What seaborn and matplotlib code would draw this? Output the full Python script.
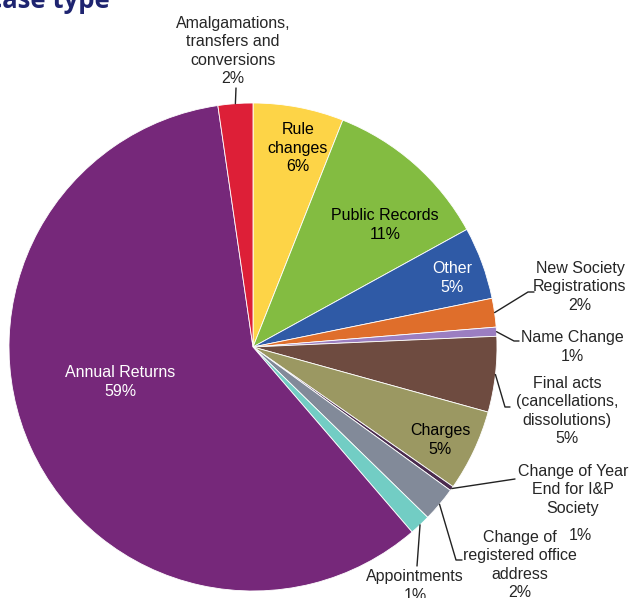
import matplotlib
matplotlib.use("Agg")
import matplotlib.pyplot as plt
import numpy as np
import seaborn as sns

# slices clockwise from 12 o'clock
categories = [
    "Rule\nchanges", "Public Records", "Other", "New Society\nRegistrations",
    "Name Change", "Final acts\n(cancellations,\ndissolutions)", "Charges",
    "Change of Year\nEnd for I&P\nSociety", "Change of\nregistered office\naddress",
    "Appointments", "Annual Returns", "Amalgamations,\ntransfers and\nconversions",
]
shares = [6.0, 11.0, 4.8, 1.9, 0.6, 5.0, 5.4, 0.3, 2.3, 1.4, 59.0, 2.3]
pct_labels = ["6%", "11%", "5%", "2%", "1%", "5%", "5%", "1%", "2%", "1%", "59%", "2%"]
slice_colors = [
    "#FDD447", "#83BC41", "#2F5AA6", "#DF6E2B", "#9B7EC1", "#6E4B40",
    "#9B9862", "#4A2B4E", "#828A99", "#72CDC4", "#76287A", "#DD1F37",
]

sns.set_theme(style="white")
plt.rcParams["font.family"] = ["Liberation Sans", "DejaVu Sans"]

W, H = 633, 598
CX, CY, R = 253, 347, 244


def to_data(x, y):
    # pixel position in the image -> data coords of the pie
    return (x - CX) / R, (CY - y) / R


fig = plt.figure(figsize=(W / 100, H / 100), dpi=100)
ax = fig.add_axes([0, 0, 1, 1])
palette = sns.color_palette(slice_colors)
wedges, _ = ax.pie(shares, colors=palette, startangle=90, counterclock=False,
                   radius=1, wedgeprops=dict(linewidth=0.6, edgecolor="white"))
ax.set_xlim(-CX / R, (W - CX) / R)
ax.set_ylim(-(H - CY) / R, CY / R)
ax.set_aspect("auto")
ax.axis("off")

fs = 11.5
ls = 1.3

# labels inside the slices: index -> (x, y, colour)
inside = {
    0: (298, 148, "black"),
    1: (385, 225, "black"),
    2: (452, 278, "white"),
    6: (440, 440, "black"),
    10: (120, 382, "white"),
}
for i, (x, y, c) in inside.items():
    ax.text(*to_data(x, y), f"{categories[i]}\n{pct_labels[i]}", ha="center",
            va="center", color=c, fontsize=fs, linespacing=ls)

# labels outside with leader lines: index -> (text pos, path of leader after the wedge)
outside = {
    11: ((233, 51), [(236, 88)]),
    3: ((580, 287), [(528, 292), (534, 292)]),
    4: ((572, 347), [(514, 341), (519, 341)]),
    5: ((567, 411), [(505, 407), (510, 407)]),
    7: ((573, 490), [(515, 479)]),
    8: ((520, 565), [(456, 560), (462, 560)]),
    9: ((415, 586), [(417, 566)]),
}
for i, ((tx, ty), path) in outside.items():
    w = wedges[i]
    mid = np.deg2rad((w.theta1 + w.theta2) / 2)
    xs = [np.cos(mid)] + [to_data(*p)[0] for p in path]
    ys = [np.sin(mid)] + [to_data(*p)[1] for p in path]
    ax.plot(xs, ys, color="#222222", lw=1.0, clip_on=False)
    if i == 7:
        label = categories[i]
        ax.text(*to_data(580, 536), pct_labels[i], ha="center", va="center",
                fontsize=fs)
    else:
        label = f"{categories[i]}\n{pct_labels[i]}"
    ax.text(*to_data(tx, ty), label, ha="center", va="center", fontsize=fs,
            linespacing=ls)

fig.text(110 / W, 1 - 8 / H, "case type", ha="right", va="baseline",
         fontsize=18.5, fontweight="bold", color="#1E2470", family="Open Sans")

fig.savefig("out.png", dpi=100)
